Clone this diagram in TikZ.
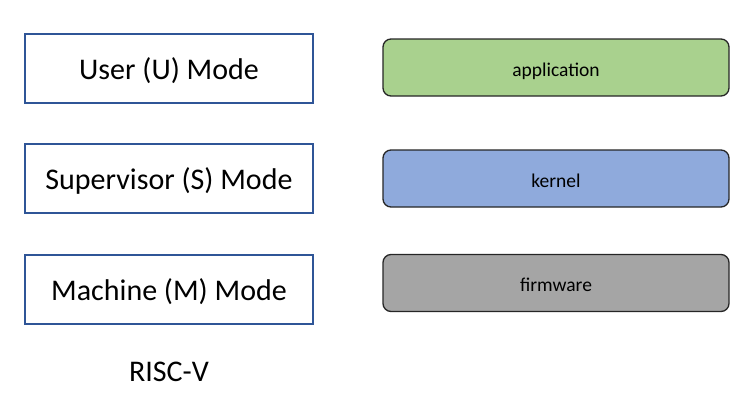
\documentclass[tikz,border=0pt]{standalone}
\usepackage{fontspec}
\setmainfont{Carlito}
\usetikzlibrary{positioning}
\definecolor{modeblue}{HTML}{2F5597}
\definecolor{appgreen}{HTML}{A9D18E}
\definecolor{kernblue}{HTML}{8FAADC}
\definecolor{fwgray}{HTML}{A5A5A5}

\begin{document}
\begin{tikzpicture}[
    x=1pt, y=-1pt,
    mode/.style={rectangle, draw=modeblue, line width=2pt, minimum width=288pt, minimum height=69pt, align=center, text height=28pt, text depth=6pt, font=\fontsize{30}{36}\selectfont},
    layer/.style={rectangle, rounded corners=8pt, draw=black!85, line width=1.3pt, minimum width=346pt, minimum height=57pt, align=center, text height=21pt, text depth=4pt, font=\fontsize{19.5}{23}\selectfont}
]
    \useasboundingbox (0,0) rectangle (755,407);

    % Privilege modes
    \node[mode] (umode) at (169,68.5) {User (U) Mode};
    \node[mode] (smode) at (169,178.5) {Supervisor (S) Mode};
    \node[mode] (mmode) at (169,289) {Machine (M) Mode};

    % Caption
    \node[font=\fontsize{30}{36}\selectfont] (isa) at (169,372) {RISC-V};

    % Software layers
    \node[layer, fill=appgreen] (app) at (556,67.5) {application};
    \node[layer, fill=kernblue] (kern) at (556,178.5) {kernel};
    \node[layer, fill=fwgray] (fw) at (556,283) {firmware};

\end{tikzpicture}
\end{document}
